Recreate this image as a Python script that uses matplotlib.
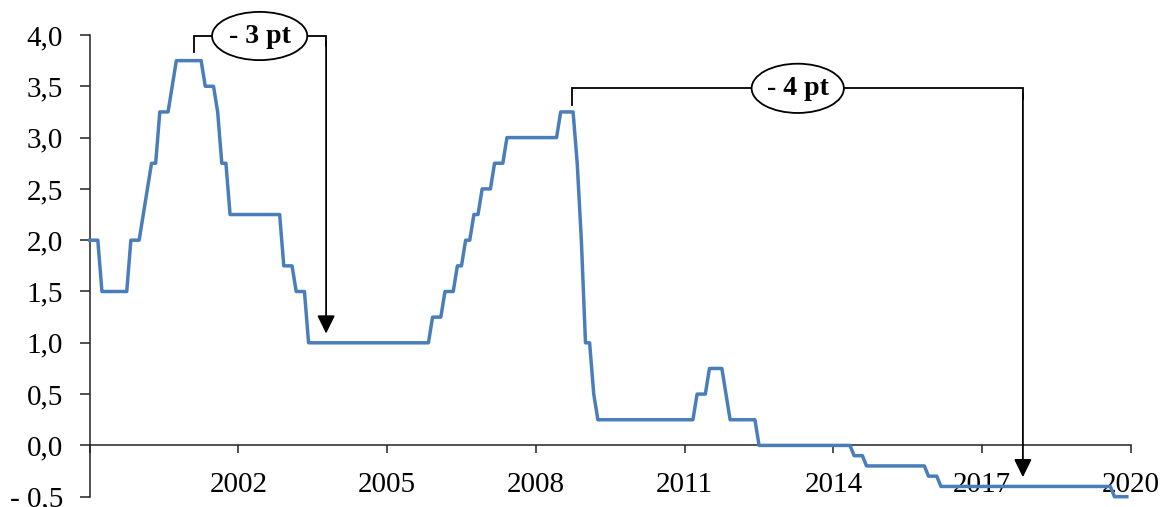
import numpy as np
import matplotlib.pyplot as plt
from matplotlib.patches import Ellipse

# deposit facility rate, monthly values Jan 1999 - Dec 2019 (%)
deposit_rate = [
    2.0, 2.0, 2.0, 1.5, 1.5, 1.5, 1.5, 1.5, 1.5, 1.5, 2.0, 2.0,                 # 1999
    2.0, 2.25, 2.5, 2.75, 2.75, 3.25, 3.25, 3.25, 3.5, 3.75, 3.75, 3.75,        # 2000
    3.75, 3.75, 3.75, 3.75, 3.5, 3.5, 3.5, 3.25, 2.75, 2.75, 2.25, 2.25,        # 2001
    2.25, 2.25, 2.25, 2.25, 2.25, 2.25, 2.25, 2.25, 2.25, 2.25, 2.25, 1.75,     # 2002
    1.75, 1.75, 1.5, 1.5, 1.5, 1.0, 1.0, 1.0, 1.0, 1.0, 1.0, 1.0,               # 2003
    1.0, 1.0, 1.0, 1.0, 1.0, 1.0, 1.0, 1.0, 1.0, 1.0, 1.0, 1.0,                 # 2004
    1.0, 1.0, 1.0, 1.0, 1.0, 1.0, 1.0, 1.0, 1.0, 1.0, 1.0, 1.25,                # 2005
    1.25, 1.25, 1.5, 1.5, 1.5, 1.75, 1.75, 2.0, 2.0, 2.25, 2.25, 2.5,           # 2006
    2.5, 2.5, 2.75, 2.75, 2.75, 3.0, 3.0, 3.0, 3.0, 3.0, 3.0, 3.0,              # 2007
    3.0, 3.0, 3.0, 3.0, 3.0, 3.0, 3.25, 3.25, 3.25, 3.25, 2.75, 2.0,            # 2008
    1.0, 1.0, 0.5, 0.25, 0.25, 0.25, 0.25, 0.25, 0.25, 0.25, 0.25, 0.25,        # 2009
    0.25, 0.25, 0.25, 0.25, 0.25, 0.25, 0.25, 0.25, 0.25, 0.25, 0.25, 0.25,     # 2010
    0.25, 0.25, 0.25, 0.5, 0.5, 0.5, 0.75, 0.75, 0.75, 0.75, 0.5, 0.25,         # 2011
    0.25, 0.25, 0.25, 0.25, 0.25, 0.25, 0.0, 0.0, 0.0, 0.0, 0.0, 0.0,           # 2012
    0.0, 0.0, 0.0, 0.0, 0.0, 0.0, 0.0, 0.0, 0.0, 0.0, 0.0, 0.0,                 # 2013
    0.0, 0.0, 0.0, 0.0, 0.0, -0.1, -0.1, -0.1, -0.2, -0.2, -0.2, -0.2,          # 2014
    -0.2, -0.2, -0.2, -0.2, -0.2, -0.2, -0.2, -0.2, -0.2, -0.2, -0.2, -0.3,     # 2015
    -0.3, -0.3, -0.4, -0.4, -0.4, -0.4, -0.4, -0.4, -0.4, -0.4, -0.4, -0.4,     # 2016
    -0.4, -0.4, -0.4, -0.4, -0.4, -0.4, -0.4, -0.4, -0.4, -0.4, -0.4, -0.4,     # 2017
    -0.4, -0.4, -0.4, -0.4, -0.4, -0.4, -0.4, -0.4, -0.4, -0.4, -0.4, -0.4,     # 2018
    -0.4, -0.4, -0.4, -0.4, -0.4, -0.4, -0.4, -0.4, -0.5, -0.5, -0.5, -0.5,     # 2019
]
start_year = 1999

year_ticks = [1999, 2002, 2005, 2008, 2011, 2014, 2017, 2020]
year_labels = ['', '2002', '2005', '2008', '2011', '2014', '2017', '2020']
rate_ticks = [4.0, 3.5, 3.0, 2.5, 2.0, 1.5, 1.0, 0.5, 0.0, -0.5]
rate_labels = ['4,0', '3,5', '3,0', '2,5', '2,0', '1,5', '1,0', '0,5', '0,0', '- 0,5']

# the two "cut" brackets: (label, start x, start y, bar y, end x, arrow tip y, ellipse x, ellipse w, ellipse h)
cuts = [
    ('- 3 pt', 2001.11, 3.83, 3.99, 2003.77, 1.09, 2002.43, 1.92, 0.47),
    ('- 4 pt', 2008.73, 3.32, 3.48, 2017.82, -0.31, 2013.28, 1.86, 0.48),
]

blue = '#4A7EBB'
serif = 'Liberation Serif'

fig = plt.figure(figsize=(11.69, 5.07), dpi=100)
ax = fig.add_axes([0.0766, 0.0203, 0.8909, 0.9107])

x = start_year + np.arange(len(deposit_rate)) / 12
ax.plot(x, deposit_rate, color=blue, lw=2.5, zorder=3, clip_on=False)

ax.set_xlim(1999, 2020)
ax.set_ylim(-0.5, 4.0)

ax.spines['top'].set_visible(False)
ax.spines['right'].set_visible(False)
ax.spines['bottom'].set_position(('data', 0))
for s in ['left', 'bottom']:
    ax.spines[s].set_linewidth(1.1)
    ax.spines[s].set_color('#222222')

ax.set_xticks(year_ticks)
ax.set_xticklabels(year_labels, fontsize=21, family=serif)
ax.set_yticks(rate_ticks)
ax.set_yticklabels(rate_labels, fontsize=21, family=serif)
ax.tick_params(axis='x', direction='out', length=6, width=1.1, pad=13, color='#222222')
ax.tick_params(axis='y', direction='out', length=7, width=1.1, pad=12, color='#222222')

for label, x0, y0, ybar, x1, ytip, ex, ew, eh in cuts:
    ax.plot([x0, x0, x1, x1], [y0, ybar, ybar, ybar - 0.1], color='black', lw=1.3,
            zorder=4, clip_on=False, solid_joinstyle='miter')
    ax.annotate('', xy=(x1, ytip), xytext=(x1, ybar - 0.05),
                arrowprops=dict(arrowstyle='-|>,head_length=0.55,head_width=0.27',
                                color='black', lw=1.3, shrinkA=0, shrinkB=0,
                                mutation_scale=20),
                zorder=4, annotation_clip=False)
    ax.add_patch(Ellipse((ex, ybar), ew, eh, facecolor='white', edgecolor='black',
                         lw=1.3, zorder=5, clip_on=False))
    ax.text(ex, ybar, label, ha='center', va='center', fontsize=20, fontweight='bold',
            family=serif, zorder=6)

fig.savefig('out.png', dpi=100)
